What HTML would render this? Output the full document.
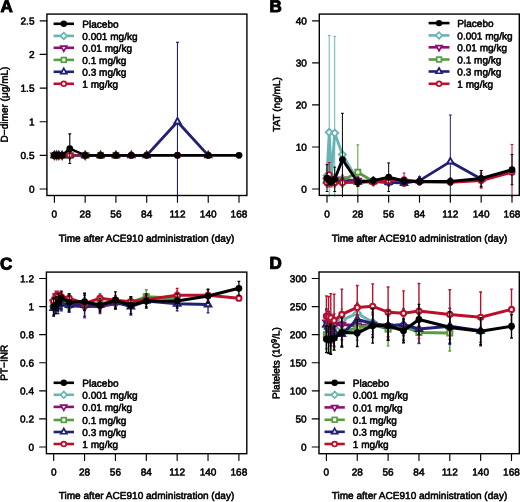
<!DOCTYPE html>
<html lang="en">
<head>
<meta charset="utf-8">
<title>Figure</title>
<style>html,body{margin:0;padding:0;background:#fff}svg{display:block}.t{stroke:#000;stroke-width:.55px;stroke-linejoin:round;text-rendering:geometricPrecision}</style>
</head>
<body>
<svg width="520" height="502" viewBox="0 0 520 502" font-family='"Liberation Sans", sans-serif' font-size="10.05" fill="#000" stroke-linecap="butt">
<rect width="520" height="502" fill="#fff"/>
<g id="panelA">
<clipPath id="clip0"><rect x="46.9" y="14.1" width="200.00" height="183.20"/></clipPath>
<g clip-path="url(#clip0)">
<path d="M54.40 155.36L56.60 155.36L58.80 155.36L62.09 155.36L69.78 155.36L85.17 155.36" fill="none" stroke="#68b4b2" stroke-width="2.0" stroke-linejoin="round"/>
<path d="M50.90 155.36L54.40 151.86L57.90 155.36L54.40 158.86Z" fill="#fff" stroke="#68b4b2" stroke-width="1.9"/>
<path d="M53.10 155.36L56.60 151.86L60.10 155.36L56.60 158.86Z" fill="#fff" stroke="#68b4b2" stroke-width="1.9"/>
<path d="M55.30 155.36L58.80 151.86L62.30 155.36L58.80 158.86Z" fill="#fff" stroke="#68b4b2" stroke-width="1.9"/>
<path d="M58.59 155.36L62.09 151.86L65.59 155.36L62.09 158.86Z" fill="#fff" stroke="#68b4b2" stroke-width="1.9"/>
<path d="M66.28 155.36L69.78 151.86L73.28 155.36L69.78 158.86Z" fill="#fff" stroke="#68b4b2" stroke-width="1.9"/>
<path d="M81.67 155.36L85.17 151.86L88.67 155.36L85.17 158.86Z" fill="#fff" stroke="#68b4b2" stroke-width="1.9"/>
<path d="M54.40 155.36L56.60 155.36L58.80 155.36L62.09 155.36L69.78 155.36L85.17 155.36" fill="none" stroke="#8c1072" stroke-width="2.0" stroke-linejoin="round"/>
<path d="M54.40 159.06L57.60 153.51L51.20 153.51Z" fill="#fff" stroke="#8c1072" stroke-width="1.9"/>
<path d="M56.60 159.06L59.80 153.51L53.39 153.51Z" fill="#fff" stroke="#8c1072" stroke-width="1.9"/>
<path d="M58.80 159.06L62.00 153.51L55.59 153.51Z" fill="#fff" stroke="#8c1072" stroke-width="1.9"/>
<path d="M62.09 159.06L65.30 153.51L58.89 153.51Z" fill="#fff" stroke="#8c1072" stroke-width="1.9"/>
<path d="M69.78 159.06L72.99 153.51L66.58 153.51Z" fill="#fff" stroke="#8c1072" stroke-width="1.9"/>
<path d="M85.17 159.06L88.37 153.51L81.96 153.51Z" fill="#fff" stroke="#8c1072" stroke-width="1.9"/>
<path d="M54.40 155.36L56.60 155.36L58.80 155.36L62.09 155.36L69.78 155.36L85.17 155.36L100.55 155.36L115.93 155.36" fill="none" stroke="#569c40" stroke-width="2.0" stroke-linejoin="round"/>
<rect x="51.90" y="152.86" width="5.00" height="5.00" fill="#fff" stroke="#569c40" stroke-width="1.9"/>
<rect x="54.10" y="152.86" width="5.00" height="5.00" fill="#fff" stroke="#569c40" stroke-width="1.9"/>
<rect x="56.30" y="152.86" width="5.00" height="5.00" fill="#fff" stroke="#569c40" stroke-width="1.9"/>
<rect x="59.59" y="152.86" width="5.00" height="5.00" fill="#fff" stroke="#569c40" stroke-width="1.9"/>
<rect x="67.28" y="152.86" width="5.00" height="5.00" fill="#fff" stroke="#569c40" stroke-width="1.9"/>
<rect x="82.67" y="152.86" width="5.00" height="5.00" fill="#fff" stroke="#569c40" stroke-width="1.9"/>
<rect x="98.05" y="152.86" width="5.00" height="5.00" fill="#fff" stroke="#569c40" stroke-width="1.9"/>
<rect x="113.43" y="152.86" width="5.00" height="5.00" fill="#fff" stroke="#569c40" stroke-width="1.9"/>
<path d="M177.47 201.11V42.33M176.07 201.11h2.8M176.07 42.33h2.8" fill="none" stroke="#222074" stroke-width="1.1"/>
<path d="M54.40 155.36L56.60 155.36L58.80 155.36L62.09 155.36L69.78 155.36L85.17 155.36L100.55 155.36L115.93 155.36L131.32 155.36L146.70 155.36L177.47 121.72L208.23 155.36" fill="none" stroke="#222074" stroke-width="2.9" stroke-linejoin="round"/>
<path d="M54.40 151.66L57.60 157.21L51.20 157.21Z" fill="#fff" stroke="#222074" stroke-width="1.9"/>
<path d="M56.60 151.66L59.80 157.21L53.39 157.21Z" fill="#fff" stroke="#222074" stroke-width="1.9"/>
<path d="M58.80 151.66L62.00 157.21L55.59 157.21Z" fill="#fff" stroke="#222074" stroke-width="1.9"/>
<path d="M62.09 151.66L65.30 157.21L58.89 157.21Z" fill="#fff" stroke="#222074" stroke-width="1.9"/>
<path d="M69.78 151.66L72.99 157.21L66.58 157.21Z" fill="#fff" stroke="#222074" stroke-width="1.9"/>
<path d="M85.17 151.66L88.37 157.21L81.96 157.21Z" fill="#fff" stroke="#222074" stroke-width="1.9"/>
<path d="M100.55 151.66L103.75 157.21L97.35 157.21Z" fill="#fff" stroke="#222074" stroke-width="1.9"/>
<path d="M115.93 151.66L119.14 157.21L112.73 157.21Z" fill="#fff" stroke="#222074" stroke-width="1.9"/>
<path d="M131.32 151.66L134.52 157.21L128.11 157.21Z" fill="#fff" stroke="#222074" stroke-width="1.9"/>
<path d="M146.70 151.66L149.90 157.21L143.50 157.21Z" fill="#fff" stroke="#222074" stroke-width="1.9"/>
<path d="M177.47 118.02L180.67 123.57L174.26 123.57Z" fill="#fff" stroke="#222074" stroke-width="1.9"/>
<path d="M208.23 151.66L211.44 157.21L205.03 157.21Z" fill="#fff" stroke="#222074" stroke-width="1.9"/>
<path d="M54.40 155.36L56.60 155.36L58.80 155.36L62.09 155.36L69.78 155.36L85.17 155.36L100.55 155.36L115.93 155.36L131.32 155.36L146.70 155.36L177.47 155.36L208.23 155.36" fill="none" stroke="#ba102c" stroke-width="2.0" stroke-linejoin="round"/>
<circle cx="54.40" cy="155.36" r="2.55" fill="#fff" stroke="#ba102c" stroke-width="1.9"/>
<circle cx="56.60" cy="155.36" r="2.55" fill="#fff" stroke="#ba102c" stroke-width="1.9"/>
<circle cx="58.80" cy="155.36" r="2.55" fill="#fff" stroke="#ba102c" stroke-width="1.9"/>
<circle cx="62.09" cy="155.36" r="2.55" fill="#fff" stroke="#ba102c" stroke-width="1.9"/>
<circle cx="69.78" cy="155.36" r="2.55" fill="#fff" stroke="#ba102c" stroke-width="1.9"/>
<circle cx="85.17" cy="155.36" r="2.55" fill="#fff" stroke="#ba102c" stroke-width="1.9"/>
<circle cx="100.55" cy="155.36" r="2.55" fill="#fff" stroke="#ba102c" stroke-width="1.9"/>
<circle cx="115.93" cy="155.36" r="2.55" fill="#fff" stroke="#ba102c" stroke-width="1.9"/>
<circle cx="131.32" cy="155.36" r="2.55" fill="#fff" stroke="#ba102c" stroke-width="1.9"/>
<circle cx="146.70" cy="155.36" r="2.55" fill="#fff" stroke="#ba102c" stroke-width="1.9"/>
<circle cx="177.47" cy="155.36" r="2.55" fill="#fff" stroke="#ba102c" stroke-width="1.9"/>
<circle cx="208.23" cy="155.36" r="2.55" fill="#fff" stroke="#ba102c" stroke-width="1.9"/>
<path d="M69.78 163.43V133.83M68.38 163.43h2.8M68.38 133.83h2.8" fill="none" stroke="#000000" stroke-width="1.1"/>
<path d="M54.40 155.36L56.60 155.36L58.80 155.36L62.09 155.36L69.78 148.63L85.17 155.36L100.55 155.36L115.93 155.36L131.32 155.36L146.70 155.36L177.47 155.36L208.23 155.36L239.00 155.36" fill="none" stroke="#000000" stroke-width="2.6" stroke-linejoin="round"/>
<circle cx="54.40" cy="155.36" r="3.40" fill="#000000"/>
<circle cx="56.60" cy="155.36" r="3.40" fill="#000000"/>
<circle cx="58.80" cy="155.36" r="3.40" fill="#000000"/>
<circle cx="62.09" cy="155.36" r="3.40" fill="#000000"/>
<circle cx="69.78" cy="148.63" r="3.40" fill="#000000"/>
<circle cx="85.17" cy="155.36" r="3.40" fill="#000000"/>
<circle cx="100.55" cy="155.36" r="3.40" fill="#000000"/>
<circle cx="115.93" cy="155.36" r="3.40" fill="#000000"/>
<circle cx="131.32" cy="155.36" r="3.40" fill="#000000"/>
<circle cx="146.70" cy="155.36" r="3.40" fill="#000000"/>
<circle cx="177.47" cy="155.36" r="3.40" fill="#000000"/>
<circle cx="208.23" cy="155.36" r="3.40" fill="#000000"/>
<circle cx="239.00" cy="155.36" r="3.40" fill="#000000"/>
</g>
<rect x="46.9" y="14.1" width="200.00" height="181.40" fill="none" stroke="#000" stroke-width="1.4"/>
<path d="M54.40 195.5v6.8M85.17 195.5v6.8M115.93 195.5v6.8M146.70 195.5v6.8M177.47 195.5v6.8M208.23 195.5v6.8M239.00 195.5v6.8M46.9 189.00h-6.8M46.9 155.36h-6.8M46.9 121.72h-6.8M46.9 88.08h-6.8M46.9 54.44h-6.8M46.9 20.80h-6.8" fill="none" stroke="#000" stroke-width="1.15" stroke-linecap="round"/>
<text x="54.40" y="217.50" text-anchor="middle" transform="rotate(0.03 54.40 217.50)" class="t">0</text>
<text x="85.17" y="217.50" text-anchor="middle" transform="rotate(0.03 85.17 217.50)" class="t">28</text>
<text x="115.93" y="217.50" text-anchor="middle" transform="rotate(0.03 115.93 217.50)" class="t">56</text>
<text x="146.70" y="217.50" text-anchor="middle" transform="rotate(0.03 146.70 217.50)" class="t">84</text>
<text x="177.47" y="217.50" text-anchor="middle" transform="rotate(0.03 177.47 217.50)" class="t">112</text>
<text x="208.23" y="217.50" text-anchor="middle" transform="rotate(0.03 208.23 217.50)" class="t">140</text>
<text x="239.00" y="217.50" text-anchor="middle" transform="rotate(0.03 239.00 217.50)" class="t">168</text>
<text x="34.50" y="192.70" text-anchor="end" transform="rotate(0.03 34.50 192.70)" class="t">0</text>
<text x="34.50" y="159.06" text-anchor="end" transform="rotate(0.03 34.50 159.06)" class="t">0.5</text>
<text x="34.50" y="125.42" text-anchor="end" transform="rotate(0.03 34.50 125.42)" class="t">1</text>
<text x="34.50" y="91.78" text-anchor="end" transform="rotate(0.03 34.50 91.78)" class="t">1.5</text>
<text x="34.50" y="58.14" text-anchor="end" transform="rotate(0.03 34.50 58.14)" class="t">2</text>
<text x="34.50" y="24.50" text-anchor="end" transform="rotate(0.03 34.50 24.50)" class="t">2.5</text>
<text x="146.50" y="241.80" text-anchor="middle" transform="rotate(0.03 146.50 241.80)" class="t">Time after ACE910 administration (day)</text>
<text transform="translate(7.8 104.5) rotate(-89.97)" text-anchor="middle" class="t">D−dimer (μg/mL)</text>
<path d="M53.6 23.8H74.0" stroke="#000000" stroke-width="2.6" fill="none"/>
<circle cx="63.80" cy="23.80" r="3.20" fill="#000000"/>
<text x="82.30" y="27.80" transform="rotate(0.03 82.30 27.80)" class="t">Placebo</text>
<path d="M53.6 35.9H74.0" stroke="#68b4b2" stroke-width="2.6" fill="none"/>
<path d="M60.51 35.90L63.80 32.61L67.09 35.90L63.80 39.19Z" fill="#fff" stroke="#68b4b2" stroke-width="1.7"/>
<text x="82.30" y="39.90" transform="rotate(0.03 82.30 39.90)" class="t">0.001 mg/kg</text>
<path d="M53.6 47.8H74.0" stroke="#8c1072" stroke-width="2.6" fill="none"/>
<path d="M63.80 51.28L66.81 46.06L60.79 46.06Z" fill="#fff" stroke="#8c1072" stroke-width="1.7"/>
<text x="82.30" y="51.80" transform="rotate(0.03 82.30 51.80)" class="t">0.01 mg/kg</text>
<path d="M53.6 59.9H74.0" stroke="#569c40" stroke-width="2.6" fill="none"/>
<rect x="61.45" y="57.55" width="4.70" height="4.70" fill="#fff" stroke="#569c40" stroke-width="1.7"/>
<text x="82.30" y="63.90" transform="rotate(0.03 82.30 63.90)" class="t">0.1 mg/kg</text>
<path d="M53.6 71.8H74.0" stroke="#222074" stroke-width="2.6" fill="none"/>
<path d="M63.80 68.32L66.81 73.54L60.79 73.54Z" fill="#fff" stroke="#222074" stroke-width="1.7"/>
<text x="82.30" y="75.80" transform="rotate(0.03 82.30 75.80)" class="t">0.3 mg/kg</text>
<path d="M53.6 83.8H74.0" stroke="#ba102c" stroke-width="2.6" fill="none"/>
<circle cx="63.80" cy="83.80" r="2.40" fill="#fff" stroke="#ba102c" stroke-width="1.7"/>
<text x="82.30" y="87.80" transform="rotate(0.03 82.30 87.80)" class="t">1 mg/kg</text>
<text x="0.6" y="12.1" transform="rotate(0.03 0.6 12.1)" font-size="17" font-weight="bold" stroke="#000" stroke-width="1" stroke-linejoin="round">A</text>
</g>
<g id="panelB">
<clipPath id="clip1"><rect x="319.3" y="14.1" width="200.00" height="183.10"/></clipPath>
<g clip-path="url(#clip1)">
<path d="M327.00 181.85V169.24M325.60 181.85h2.8M325.60 169.24h2.8M329.20 231.05V35.52M327.80 231.05h2.8M327.80 35.52h2.8M331.40 182.69V170.08M330.00 182.69h2.8M330.00 170.08h2.8M334.71 231.05V36.36M333.31 231.05h2.8M333.31 36.36h2.8M357.83 184.79V176.38M356.43 184.79h2.8M356.43 176.38h2.8" fill="none" stroke="#68b4b2" stroke-width="1.0"/>
<path d="M327.00 175.54L329.20 132.23L331.40 176.38L334.71 133.07L342.42 154.52L357.83 180.59" fill="none" stroke="#68b4b2" stroke-width="2.8" stroke-linejoin="round"/>
<path d="M323.50 175.54L327.00 172.04L330.50 175.54L327.00 179.04Z" fill="#fff" stroke="#68b4b2" stroke-width="1.9"/>
<path d="M325.70 132.23L329.20 128.73L332.70 132.23L329.20 135.73Z" fill="#fff" stroke="#68b4b2" stroke-width="1.9"/>
<path d="M327.90 176.38L331.40 172.88L334.90 176.38L331.40 179.88Z" fill="#fff" stroke="#68b4b2" stroke-width="1.9"/>
<path d="M331.21 133.07L334.71 129.57L338.21 133.07L334.71 136.57Z" fill="#fff" stroke="#68b4b2" stroke-width="1.9"/>
<path d="M338.92 154.52L342.42 151.02L345.92 154.52L342.42 158.02Z" fill="#fff" stroke="#68b4b2" stroke-width="1.9"/>
<path d="M354.33 180.59L357.83 177.09L361.33 180.59L357.83 184.09Z" fill="#fff" stroke="#68b4b2" stroke-width="1.9"/>
<path d="M327.00 184.79V176.38M325.60 184.79h2.8M325.60 176.38h2.8M329.20 184.79V176.38M327.80 184.79h2.8M327.80 176.38h2.8M331.40 184.79V176.38M330.00 184.79h2.8M330.00 176.38h2.8M334.71 184.79V176.38M333.31 184.79h2.8M333.31 176.38h2.8M342.42 183.53V175.12M341.02 183.53h2.8M341.02 175.12h2.8M357.83 184.79V176.38M356.43 184.79h2.8M356.43 176.38h2.8M373.25 184.79V178.07M371.85 184.79h2.8M371.85 178.07h2.8M388.67 185.64V178.91M387.27 185.64h2.8M387.27 178.91h2.8" fill="none" stroke="#8c1072" stroke-width="1.0"/>
<path d="M327.00 180.59L329.20 180.59L331.40 180.59L334.71 180.59L342.42 179.33L357.83 180.59L373.25 181.43L388.67 182.27" fill="none" stroke="#8c1072" stroke-width="2.8" stroke-linejoin="round"/>
<path d="M327.00 184.29L330.20 178.74L323.80 178.74Z" fill="#fff" stroke="#8c1072" stroke-width="1.9"/>
<path d="M329.20 184.29L332.41 178.74L326.00 178.74Z" fill="#fff" stroke="#8c1072" stroke-width="1.9"/>
<path d="M331.40 184.29L334.61 178.74L328.20 178.74Z" fill="#fff" stroke="#8c1072" stroke-width="1.9"/>
<path d="M334.71 184.29L337.91 178.74L331.50 178.74Z" fill="#fff" stroke="#8c1072" stroke-width="1.9"/>
<path d="M342.42 183.03L345.62 177.48L339.21 177.48Z" fill="#fff" stroke="#8c1072" stroke-width="1.9"/>
<path d="M357.83 184.29L361.04 178.74L354.63 178.74Z" fill="#fff" stroke="#8c1072" stroke-width="1.9"/>
<path d="M373.25 185.13L376.45 179.58L370.05 179.58Z" fill="#fff" stroke="#8c1072" stroke-width="1.9"/>
<path d="M388.67 185.97L391.87 180.42L385.46 180.42Z" fill="#fff" stroke="#8c1072" stroke-width="1.9"/>
<path d="M327.00 184.79V176.38M325.60 184.79h2.8M325.60 176.38h2.8M329.20 184.79V176.38M327.80 184.79h2.8M327.80 176.38h2.8M331.40 184.79V176.38M330.00 184.79h2.8M330.00 176.38h2.8M334.71 184.79V176.38M333.31 184.79h2.8M333.31 176.38h2.8M342.42 184.79V176.38M341.02 184.79h2.8M341.02 176.38h2.8M357.83 199.51V144.85M356.43 199.51h2.8M356.43 144.85h2.8M373.25 184.79V178.07M371.85 184.79h2.8M371.85 178.07h2.8M388.67 185.64V178.91M387.27 185.64h2.8M387.27 178.91h2.8M404.08 185.64V179.75M402.68 185.64h2.8M402.68 179.75h2.8" fill="none" stroke="#569c40" stroke-width="1.0"/>
<path d="M327.00 180.59L329.20 180.59L331.40 180.59L334.71 180.59L342.42 180.59L357.83 172.18L373.25 181.43L388.67 182.27L404.08 182.69" fill="none" stroke="#569c40" stroke-width="2.8" stroke-linejoin="round"/>
<rect x="324.50" y="178.09" width="5.00" height="5.00" fill="#fff" stroke="#569c40" stroke-width="1.9"/>
<rect x="326.70" y="178.09" width="5.00" height="5.00" fill="#fff" stroke="#569c40" stroke-width="1.9"/>
<rect x="328.90" y="178.09" width="5.00" height="5.00" fill="#fff" stroke="#569c40" stroke-width="1.9"/>
<rect x="332.21" y="178.09" width="5.00" height="5.00" fill="#fff" stroke="#569c40" stroke-width="1.9"/>
<rect x="339.92" y="178.09" width="5.00" height="5.00" fill="#fff" stroke="#569c40" stroke-width="1.9"/>
<rect x="355.33" y="169.68" width="5.00" height="5.00" fill="#fff" stroke="#569c40" stroke-width="1.9"/>
<rect x="370.75" y="178.93" width="5.00" height="5.00" fill="#fff" stroke="#569c40" stroke-width="1.9"/>
<rect x="386.17" y="179.77" width="5.00" height="5.00" fill="#fff" stroke="#569c40" stroke-width="1.9"/>
<rect x="401.58" y="180.19" width="5.00" height="5.00" fill="#fff" stroke="#569c40" stroke-width="1.9"/>
<path d="M327.00 184.79V176.38M325.60 184.79h2.8M325.60 176.38h2.8M329.20 184.79V176.38M327.80 184.79h2.8M327.80 176.38h2.8M331.40 184.79V176.38M330.00 184.79h2.8M330.00 176.38h2.8M334.71 184.79V176.38M333.31 184.79h2.8M333.31 176.38h2.8M342.42 184.79V178.07M341.02 184.79h2.8M341.02 178.07h2.8M357.83 184.79V178.91M356.43 184.79h2.8M356.43 178.91h2.8M373.25 184.79V178.07M371.85 184.79h2.8M371.85 178.07h2.8M388.67 185.64V178.91M387.27 185.64h2.8M387.27 178.91h2.8M404.08 186.06V180.17M402.68 186.06h2.8M402.68 180.17h2.8M419.50 184.79V176.38M418.10 184.79h2.8M418.10 176.38h2.8M450.33 208.34V114.99M448.93 208.34h2.8M448.93 114.99h2.8M481.17 187.32V170.50M479.77 187.32h2.8M479.77 170.50h2.8" fill="none" stroke="#222074" stroke-width="1.0"/>
<path d="M327.00 180.59L329.20 180.59L331.40 180.59L334.71 180.59L342.42 181.43L357.83 181.85L373.25 181.43L388.67 182.27L404.08 183.11L419.50 180.59L450.33 161.67L481.17 178.91" fill="none" stroke="#222074" stroke-width="2.8" stroke-linejoin="round"/>
<path d="M327.00 176.89L330.20 182.44L323.80 182.44Z" fill="#fff" stroke="#222074" stroke-width="1.9"/>
<path d="M329.20 176.89L332.41 182.44L326.00 182.44Z" fill="#fff" stroke="#222074" stroke-width="1.9"/>
<path d="M331.40 176.89L334.61 182.44L328.20 182.44Z" fill="#fff" stroke="#222074" stroke-width="1.9"/>
<path d="M334.71 176.89L337.91 182.44L331.50 182.44Z" fill="#fff" stroke="#222074" stroke-width="1.9"/>
<path d="M342.42 177.73L345.62 183.28L339.21 183.28Z" fill="#fff" stroke="#222074" stroke-width="1.9"/>
<path d="M357.83 178.15L361.04 183.70L354.63 183.70Z" fill="#fff" stroke="#222074" stroke-width="1.9"/>
<path d="M373.25 177.73L376.45 183.28L370.05 183.28Z" fill="#fff" stroke="#222074" stroke-width="1.9"/>
<path d="M388.67 178.57L391.87 184.12L385.46 184.12Z" fill="#fff" stroke="#222074" stroke-width="1.9"/>
<path d="M404.08 179.41L407.29 184.96L400.88 184.96Z" fill="#fff" stroke="#222074" stroke-width="1.9"/>
<path d="M419.50 176.89L422.70 182.44L416.30 182.44Z" fill="#fff" stroke="#222074" stroke-width="1.9"/>
<path d="M450.33 157.97L453.54 163.52L447.13 163.52Z" fill="#fff" stroke="#222074" stroke-width="1.9"/>
<path d="M481.17 175.21L484.37 180.76L477.96 180.76Z" fill="#fff" stroke="#222074" stroke-width="1.9"/>
<path d="M327.00 186.90V178.49M325.60 186.90h2.8M325.60 178.49h2.8M329.20 186.90V162.51M327.80 186.90h2.8M327.80 162.51h2.8M331.40 186.90V178.49M330.00 186.90h2.8M330.00 178.49h2.8M334.71 186.90V178.49M333.31 186.90h2.8M333.31 178.49h2.8M342.42 186.90V178.49M341.02 186.90h2.8M341.02 178.49h2.8M357.83 186.48V178.07M356.43 186.48h2.8M356.43 178.07h2.8M373.25 185.64V178.07M371.85 185.64h2.8M371.85 178.07h2.8M388.67 184.79V177.23M387.27 184.79h2.8M387.27 177.23h2.8M404.08 186.48V173.02M402.68 186.48h2.8M402.68 173.02h2.8M419.50 184.79V178.91M418.10 184.79h2.8M418.10 178.91h2.8M450.33 185.22V179.33M448.93 185.22h2.8M448.93 179.33h2.8M481.17 188.16V173.02M479.77 188.16h2.8M479.77 173.02h2.8M512.00 199.93V144.43M510.60 199.93h2.8M510.60 144.43h2.8" fill="none" stroke="#ba102c" stroke-width="1.0"/>
<path d="M327.00 182.69L329.20 174.70L331.40 182.69L334.71 182.69L342.42 182.69L357.83 182.27L373.25 181.85L388.67 181.01L404.08 179.75L419.50 181.85L450.33 182.27L481.17 180.59L512.00 172.18" fill="none" stroke="#ba102c" stroke-width="2.8" stroke-linejoin="round"/>
<circle cx="327.00" cy="182.69" r="2.55" fill="#fff" stroke="#ba102c" stroke-width="1.9"/>
<circle cx="329.20" cy="174.70" r="2.55" fill="#fff" stroke="#ba102c" stroke-width="1.9"/>
<circle cx="331.40" cy="182.69" r="2.55" fill="#fff" stroke="#ba102c" stroke-width="1.9"/>
<circle cx="334.71" cy="182.69" r="2.55" fill="#fff" stroke="#ba102c" stroke-width="1.9"/>
<circle cx="342.42" cy="182.69" r="2.55" fill="#fff" stroke="#ba102c" stroke-width="1.9"/>
<circle cx="357.83" cy="182.27" r="2.55" fill="#fff" stroke="#ba102c" stroke-width="1.9"/>
<circle cx="373.25" cy="181.85" r="2.55" fill="#fff" stroke="#ba102c" stroke-width="1.9"/>
<circle cx="388.67" cy="181.01" r="2.55" fill="#fff" stroke="#ba102c" stroke-width="1.9"/>
<circle cx="404.08" cy="179.75" r="2.55" fill="#fff" stroke="#ba102c" stroke-width="1.9"/>
<circle cx="419.50" cy="181.85" r="2.55" fill="#fff" stroke="#ba102c" stroke-width="1.9"/>
<circle cx="450.33" cy="182.27" r="2.55" fill="#fff" stroke="#ba102c" stroke-width="1.9"/>
<circle cx="481.17" cy="180.59" r="2.55" fill="#fff" stroke="#ba102c" stroke-width="1.9"/>
<circle cx="512.00" cy="172.18" r="2.55" fill="#fff" stroke="#ba102c" stroke-width="1.9"/>
<path d="M327.00 191.52V164.61M325.60 191.52h2.8M325.60 164.61h2.8M329.20 184.79V176.38M327.80 184.79h2.8M327.80 176.38h2.8M331.40 184.79V178.07M330.00 184.79h2.8M330.00 178.07h2.8M334.71 191.52V167.13M333.31 191.52h2.8M333.31 167.13h2.8M342.42 205.82V113.31M341.02 205.82h2.8M341.02 113.31h2.8M357.83 186.48V178.07M356.43 186.48h2.8M356.43 178.07h2.8M373.25 183.95V177.23M371.85 183.95h2.8M371.85 177.23h2.8M388.67 191.52V162.93M387.27 191.52h2.8M387.27 162.93h2.8M404.08 184.37V177.65M402.68 184.37h2.8M402.68 177.65h2.8M419.50 184.79V178.07M418.10 184.79h2.8M418.10 178.07h2.8M450.33 184.79V178.07M448.93 184.79h2.8M448.93 178.07h2.8M481.17 186.48V170.50M479.77 186.48h2.8M479.77 170.50h2.8M512.00 184.80V154.52M510.60 184.80h2.8M510.60 154.52h2.8" fill="none" stroke="#000000" stroke-width="1.0"/>
<path d="M327.00 178.07L329.20 180.59L331.40 181.43L334.71 179.33L342.42 159.56L357.83 182.27L373.25 180.59L388.67 177.23L404.08 181.01L419.50 181.43L450.33 181.43L481.17 178.49L512.00 169.66" fill="none" stroke="#000000" stroke-width="2.9" stroke-linejoin="round"/>
<circle cx="327.00" cy="178.07" r="3.40" fill="#000000"/>
<circle cx="329.20" cy="180.59" r="3.40" fill="#000000"/>
<circle cx="331.40" cy="181.43" r="3.40" fill="#000000"/>
<circle cx="334.71" cy="179.33" r="3.40" fill="#000000"/>
<circle cx="342.42" cy="159.56" r="3.40" fill="#000000"/>
<circle cx="357.83" cy="182.27" r="3.40" fill="#000000"/>
<circle cx="373.25" cy="180.59" r="3.40" fill="#000000"/>
<circle cx="388.67" cy="177.23" r="3.40" fill="#000000"/>
<circle cx="404.08" cy="181.01" r="3.40" fill="#000000"/>
<circle cx="419.50" cy="181.43" r="3.40" fill="#000000"/>
<circle cx="450.33" cy="181.43" r="3.40" fill="#000000"/>
<circle cx="481.17" cy="178.49" r="3.40" fill="#000000"/>
<circle cx="512.00" cy="169.66" r="3.40" fill="#000000"/>
</g>
<rect x="319.3" y="14.1" width="200.00" height="181.30" fill="none" stroke="#000" stroke-width="1.4"/>
<path d="M327.00 195.4v6.8M357.83 195.4v6.8M388.67 195.4v6.8M419.50 195.4v6.8M450.33 195.4v6.8M481.17 195.4v6.8M512.00 195.4v6.8M319.3 189.00h-6.8M319.3 146.95h-6.8M319.3 104.90h-6.8M319.3 62.85h-6.8M319.3 20.80h-6.8" fill="none" stroke="#000" stroke-width="1.15" stroke-linecap="round"/>
<text x="327.00" y="217.50" text-anchor="middle" transform="rotate(0.03 327.00 217.50)" class="t">0</text>
<text x="357.83" y="217.50" text-anchor="middle" transform="rotate(0.03 357.83 217.50)" class="t">28</text>
<text x="388.67" y="217.50" text-anchor="middle" transform="rotate(0.03 388.67 217.50)" class="t">56</text>
<text x="419.50" y="217.50" text-anchor="middle" transform="rotate(0.03 419.50 217.50)" class="t">84</text>
<text x="450.33" y="217.50" text-anchor="middle" transform="rotate(0.03 450.33 217.50)" class="t">112</text>
<text x="481.17" y="217.50" text-anchor="middle" transform="rotate(0.03 481.17 217.50)" class="t">140</text>
<text x="512.00" y="217.50" text-anchor="middle" transform="rotate(0.03 512.00 217.50)" class="t">168</text>
<text x="306.90" y="192.70" text-anchor="end" transform="rotate(0.03 306.90 192.70)" class="t">0</text>
<text x="306.90" y="150.65" text-anchor="end" transform="rotate(0.03 306.90 150.65)" class="t">10</text>
<text x="306.90" y="108.60" text-anchor="end" transform="rotate(0.03 306.90 108.60)" class="t">20</text>
<text x="306.90" y="66.55" text-anchor="end" transform="rotate(0.03 306.90 66.55)" class="t">30</text>
<text x="306.90" y="24.50" text-anchor="end" transform="rotate(0.03 306.90 24.50)" class="t">40</text>
<text x="419.50" y="241.80" text-anchor="middle" transform="rotate(0.03 419.50 241.80)" class="t">Time after ACE910 administration (day)</text>
<text transform="translate(280 104.5) rotate(-89.97)" text-anchor="middle" class="t">TAT (ng/mL)</text>
<path d="M428.6 23.1H449.5" stroke="#000000" stroke-width="2.6" fill="none"/>
<circle cx="439.05" cy="23.10" r="3.20" fill="#000000"/>
<text x="457.30" y="27.10" transform="rotate(0.03 457.30 27.10)" class="t">Placebo</text>
<path d="M428.6 35.4H449.5" stroke="#68b4b2" stroke-width="2.6" fill="none"/>
<path d="M435.76 35.40L439.05 32.11L442.34 35.40L439.05 38.69Z" fill="#fff" stroke="#68b4b2" stroke-width="1.7"/>
<text x="457.30" y="39.40" transform="rotate(0.03 457.30 39.40)" class="t">0.001 mg/kg</text>
<path d="M428.6 47.3H449.5" stroke="#8c1072" stroke-width="2.6" fill="none"/>
<path d="M439.05 50.78L442.06 45.56L436.04 45.56Z" fill="#fff" stroke="#8c1072" stroke-width="1.7"/>
<text x="457.30" y="51.30" transform="rotate(0.03 457.30 51.30)" class="t">0.01 mg/kg</text>
<path d="M428.6 59.5H449.5" stroke="#569c40" stroke-width="2.6" fill="none"/>
<rect x="436.70" y="57.15" width="4.70" height="4.70" fill="#fff" stroke="#569c40" stroke-width="1.7"/>
<text x="457.30" y="63.50" transform="rotate(0.03 457.30 63.50)" class="t">0.1 mg/kg</text>
<path d="M428.6 71.5H449.5" stroke="#222074" stroke-width="2.6" fill="none"/>
<path d="M439.05 68.02L442.06 73.24L436.04 73.24Z" fill="#fff" stroke="#222074" stroke-width="1.7"/>
<text x="457.30" y="75.50" transform="rotate(0.03 457.30 75.50)" class="t">0.3 mg/kg</text>
<path d="M428.6 83.8H449.5" stroke="#ba102c" stroke-width="2.6" fill="none"/>
<circle cx="439.05" cy="83.80" r="2.40" fill="#fff" stroke="#ba102c" stroke-width="1.7"/>
<text x="457.30" y="87.80" transform="rotate(0.03 457.30 87.80)" class="t">1 mg/kg</text>
<text x="269.6" y="12.1" transform="rotate(0.03 269.6 12.1)" font-size="17" font-weight="bold" stroke="#000" stroke-width="1" stroke-linejoin="round">B</text>
</g>
<g id="panelC">
<clipPath id="clip2"><rect x="46.4" y="272.1" width="200.40" height="183.40"/></clipPath>
<g clip-path="url(#clip2)">
<path d="M53.70 310.80V302.37M52.30 310.80h2.8M52.30 302.37h2.8M55.90 310.80V302.37M54.50 310.80h2.8M54.50 302.37h2.8M58.11 309.39V300.97M56.71 309.39h2.8M56.71 300.97h2.8M61.42 307.99V299.56M60.02 307.99h2.8M60.02 299.56h2.8M69.13 312.20V300.97M67.73 312.20h2.8M67.73 300.97h2.8M84.57 310.80V302.37M83.17 310.80h2.8M83.17 302.37h2.8" fill="none" stroke="#68b4b2" stroke-width="1.3"/>
<path d="M53.70 306.58L55.90 306.58L58.11 305.18L61.42 303.77L69.13 306.58L84.57 306.58" fill="none" stroke="#68b4b2" stroke-width="3.0" stroke-linejoin="round"/>
<path d="M50.20 306.58L53.70 303.08L57.20 306.58L53.70 310.08Z" fill="#fff" stroke="#68b4b2" stroke-width="2.1"/>
<path d="M52.40 306.58L55.90 303.08L59.40 306.58L55.90 310.08Z" fill="#fff" stroke="#68b4b2" stroke-width="2.1"/>
<path d="M54.61 305.18L58.11 301.68L61.61 305.18L58.11 308.68Z" fill="#fff" stroke="#68b4b2" stroke-width="2.1"/>
<path d="M57.92 303.77L61.42 300.27L64.92 303.77L61.42 307.27Z" fill="#fff" stroke="#68b4b2" stroke-width="2.1"/>
<path d="M65.63 306.58L69.13 303.08L72.63 306.58L69.13 310.08Z" fill="#fff" stroke="#68b4b2" stroke-width="2.1"/>
<path d="M81.07 306.58L84.57 303.08L88.07 306.58L84.57 310.08Z" fill="#fff" stroke="#68b4b2" stroke-width="2.1"/>
<path d="M53.70 310.80V293.95M52.30 310.80h2.8M52.30 293.95h2.8M55.90 306.58V292.54M54.50 306.58h2.8M54.50 292.54h2.8M58.11 307.99V293.95M56.71 307.99h2.8M56.71 293.95h2.8M61.42 309.39V295.35M60.02 309.39h2.8M60.02 295.35h2.8M69.13 312.20V298.16M67.73 312.20h2.8M67.73 298.16h2.8M84.57 317.82V295.35M83.17 317.82h2.8M83.17 295.35h2.8M100.00 313.60V299.56M98.60 313.60h2.8M98.60 299.56h2.8M115.43 309.39V298.16M114.03 309.39h2.8M114.03 298.16h2.8" fill="none" stroke="#8c1072" stroke-width="1.3"/>
<path d="M53.70 302.37L55.90 299.56L58.11 300.97L61.42 302.37L69.13 305.18L84.57 306.58L100.00 306.58L115.43 303.77" fill="none" stroke="#8c1072" stroke-width="3.0" stroke-linejoin="round"/>
<path d="M53.70 306.07L56.90 300.52L50.50 300.52Z" fill="#fff" stroke="#8c1072" stroke-width="2.1"/>
<path d="M55.90 303.26L59.11 297.71L52.70 297.71Z" fill="#fff" stroke="#8c1072" stroke-width="2.1"/>
<path d="M58.11 304.67L61.31 299.12L54.91 299.12Z" fill="#fff" stroke="#8c1072" stroke-width="2.1"/>
<path d="M61.42 306.07L64.62 300.52L58.21 300.52Z" fill="#fff" stroke="#8c1072" stroke-width="2.1"/>
<path d="M69.13 308.88L72.34 303.33L65.93 303.33Z" fill="#fff" stroke="#8c1072" stroke-width="2.1"/>
<path d="M84.57 310.28L87.77 304.73L81.36 304.73Z" fill="#fff" stroke="#8c1072" stroke-width="2.1"/>
<path d="M100.00 310.28L103.20 304.73L96.80 304.73Z" fill="#fff" stroke="#8c1072" stroke-width="2.1"/>
<path d="M115.43 307.47L118.64 301.92L112.23 301.92Z" fill="#fff" stroke="#8c1072" stroke-width="2.1"/>
<path d="M53.70 312.20V300.97M52.30 312.20h2.8M52.30 300.97h2.8M55.90 309.39V298.16M54.50 309.39h2.8M54.50 298.16h2.8M58.11 307.99V296.75M56.71 307.99h2.8M56.71 296.75h2.8M61.42 306.58V295.35M60.02 306.58h2.8M60.02 295.35h2.8M69.13 307.99V296.75M67.73 307.99h2.8M67.73 296.75h2.8M84.57 309.39V298.16M83.17 309.39h2.8M83.17 298.16h2.8M100.00 309.39V298.16M98.60 309.39h2.8M98.60 298.16h2.8M115.43 306.58V295.35M114.03 306.58h2.8M114.03 295.35h2.8M130.87 307.99V296.75M129.47 307.99h2.8M129.47 296.75h2.8M146.30 303.77V289.73M144.90 303.77h2.8M144.90 289.73h2.8M177.17 305.18V291.14M175.77 305.18h2.8M175.77 291.14h2.8" fill="none" stroke="#569c40" stroke-width="1.3"/>
<path d="M53.70 306.58L55.90 303.77L58.11 302.37L61.42 300.97L69.13 302.37L84.57 303.77L100.00 303.77L115.43 300.97L130.87 302.37L146.30 296.75L177.17 298.16" fill="none" stroke="#569c40" stroke-width="3.0" stroke-linejoin="round"/>
<rect x="51.20" y="304.08" width="5.00" height="5.00" fill="#fff" stroke="#569c40" stroke-width="2.1"/>
<rect x="53.40" y="301.27" width="5.00" height="5.00" fill="#fff" stroke="#569c40" stroke-width="2.1"/>
<rect x="55.61" y="299.87" width="5.00" height="5.00" fill="#fff" stroke="#569c40" stroke-width="2.1"/>
<rect x="58.92" y="298.47" width="5.00" height="5.00" fill="#fff" stroke="#569c40" stroke-width="2.1"/>
<rect x="66.63" y="299.87" width="5.00" height="5.00" fill="#fff" stroke="#569c40" stroke-width="2.1"/>
<rect x="82.07" y="301.27" width="5.00" height="5.00" fill="#fff" stroke="#569c40" stroke-width="2.1"/>
<rect x="97.50" y="301.27" width="5.00" height="5.00" fill="#fff" stroke="#569c40" stroke-width="2.1"/>
<rect x="112.93" y="298.47" width="5.00" height="5.00" fill="#fff" stroke="#569c40" stroke-width="2.1"/>
<rect x="128.37" y="299.87" width="5.00" height="5.00" fill="#fff" stroke="#569c40" stroke-width="2.1"/>
<rect x="143.80" y="294.25" width="5.00" height="5.00" fill="#fff" stroke="#569c40" stroke-width="2.1"/>
<rect x="174.67" y="295.66" width="5.00" height="5.00" fill="#fff" stroke="#569c40" stroke-width="2.1"/>
<path d="M53.70 316.41V299.56M52.30 316.41h2.8M52.30 299.56h2.8M55.90 313.60V299.56M54.50 313.60h2.8M54.50 299.56h2.8M58.11 313.60V299.56M56.71 313.60h2.8M56.71 299.56h2.8M61.42 310.80V296.75M60.02 310.80h2.8M60.02 296.75h2.8M69.13 312.20V298.16M67.73 312.20h2.8M67.73 298.16h2.8M84.57 316.41V293.95M83.17 316.41h2.8M83.17 293.95h2.8M100.00 310.80V299.56M98.60 310.80h2.8M98.60 299.56h2.8M115.43 307.99V296.75M114.03 307.99h2.8M114.03 296.75h2.8M130.87 315.01V298.16M129.47 315.01h2.8M129.47 298.16h2.8M146.30 306.58V295.35M144.90 306.58h2.8M144.90 295.35h2.8M177.17 310.80V296.75M175.77 310.80h2.8M175.77 296.75h2.8M208.03 312.90V296.05M206.63 312.90h2.8M206.63 296.05h2.8" fill="none" stroke="#222074" stroke-width="1.3"/>
<path d="M53.70 307.99L55.90 306.58L58.11 306.58L61.42 303.77L69.13 305.18L84.57 305.18L100.00 305.18L115.43 302.37L130.87 306.58L146.30 300.97L177.17 303.77L208.03 304.48" fill="none" stroke="#222074" stroke-width="3.0" stroke-linejoin="round"/>
<path d="M53.70 304.29L56.90 309.84L50.50 309.84Z" fill="#fff" stroke="#222074" stroke-width="2.1"/>
<path d="M55.90 302.88L59.11 308.43L52.70 308.43Z" fill="#fff" stroke="#222074" stroke-width="2.1"/>
<path d="M58.11 302.88L61.31 308.43L54.91 308.43Z" fill="#fff" stroke="#222074" stroke-width="2.1"/>
<path d="M61.42 300.07L64.62 305.62L58.21 305.62Z" fill="#fff" stroke="#222074" stroke-width="2.1"/>
<path d="M69.13 301.48L72.34 307.03L65.93 307.03Z" fill="#fff" stroke="#222074" stroke-width="2.1"/>
<path d="M84.57 301.48L87.77 307.03L81.36 307.03Z" fill="#fff" stroke="#222074" stroke-width="2.1"/>
<path d="M100.00 301.48L103.20 307.03L96.80 307.03Z" fill="#fff" stroke="#222074" stroke-width="2.1"/>
<path d="M115.43 298.67L118.64 304.22L112.23 304.22Z" fill="#fff" stroke="#222074" stroke-width="2.1"/>
<path d="M130.87 302.88L134.07 308.43L127.66 308.43Z" fill="#fff" stroke="#222074" stroke-width="2.1"/>
<path d="M146.30 297.27L149.50 302.82L143.10 302.82Z" fill="#fff" stroke="#222074" stroke-width="2.1"/>
<path d="M177.17 300.07L180.37 305.62L173.96 305.62Z" fill="#fff" stroke="#222074" stroke-width="2.1"/>
<path d="M208.03 300.78L211.24 306.33L204.83 306.33Z" fill="#fff" stroke="#222074" stroke-width="2.1"/>
<path d="M53.70 307.99V293.95M52.30 307.99h2.8M52.30 293.95h2.8M55.90 302.37V291.14M54.50 302.37h2.8M54.50 291.14h2.8M58.11 299.56V291.14M56.71 299.56h2.8M56.71 291.14h2.8M61.42 300.97V292.54M60.02 300.97h2.8M60.02 292.54h2.8M69.13 302.37V293.95M67.73 302.37h2.8M67.73 293.95h2.8M84.57 307.99V299.56M83.17 307.99h2.8M83.17 299.56h2.8M100.00 302.37V293.95M98.60 302.37h2.8M98.60 293.95h2.8M115.43 304.48V296.05M114.03 304.48h2.8M114.03 296.05h2.8M130.87 305.88V297.46M129.47 305.88h2.8M129.47 297.46h2.8M146.30 303.77V295.35M144.90 303.77h2.8M144.90 295.35h2.8M177.17 302.37V288.33M175.77 302.37h2.8M175.77 288.33h2.8M208.03 300.97V289.73M206.63 300.97h2.8M206.63 289.73h2.8" fill="none" stroke="#ba102c" stroke-width="1.3"/>
<path d="M53.70 300.97L55.90 296.75L58.11 295.35L61.42 296.75L69.13 298.16L84.57 303.77L100.00 298.16L115.43 300.26L130.87 301.67L146.30 299.56L177.17 295.35L208.03 295.35L238.90 298.16" fill="none" stroke="#ba102c" stroke-width="3.0" stroke-linejoin="round"/>
<circle cx="53.70" cy="300.97" r="2.55" fill="#fff" stroke="#ba102c" stroke-width="2.1"/>
<circle cx="55.90" cy="296.75" r="2.55" fill="#fff" stroke="#ba102c" stroke-width="2.1"/>
<circle cx="58.11" cy="295.35" r="2.55" fill="#fff" stroke="#ba102c" stroke-width="2.1"/>
<circle cx="61.42" cy="296.75" r="2.55" fill="#fff" stroke="#ba102c" stroke-width="2.1"/>
<circle cx="69.13" cy="298.16" r="2.55" fill="#fff" stroke="#ba102c" stroke-width="2.1"/>
<circle cx="84.57" cy="303.77" r="2.55" fill="#fff" stroke="#ba102c" stroke-width="2.1"/>
<circle cx="100.00" cy="298.16" r="2.55" fill="#fff" stroke="#ba102c" stroke-width="2.1"/>
<circle cx="115.43" cy="300.26" r="2.55" fill="#fff" stroke="#ba102c" stroke-width="2.1"/>
<circle cx="130.87" cy="301.67" r="2.55" fill="#fff" stroke="#ba102c" stroke-width="2.1"/>
<circle cx="146.30" cy="299.56" r="2.55" fill="#fff" stroke="#ba102c" stroke-width="2.1"/>
<circle cx="177.17" cy="295.35" r="2.55" fill="#fff" stroke="#ba102c" stroke-width="2.1"/>
<circle cx="208.03" cy="295.35" r="2.55" fill="#fff" stroke="#ba102c" stroke-width="2.1"/>
<circle cx="238.90" cy="298.16" r="2.55" fill="#fff" stroke="#ba102c" stroke-width="2.1"/>
<path d="M53.70 315.01V298.16M52.30 315.01h2.8M52.30 298.16h2.8M55.90 313.60V296.75M54.50 313.60h2.8M54.50 296.75h2.8M58.11 310.80V293.95M56.71 310.80h2.8M56.71 293.95h2.8M61.42 305.18V291.14M60.02 305.18h2.8M60.02 291.14h2.8M69.13 310.80V293.95M67.73 310.80h2.8M67.73 293.95h2.8M84.57 310.09V293.24M83.17 310.09h2.8M83.17 293.24h2.8M100.00 312.20V298.16M98.60 312.20h2.8M98.60 298.16h2.8M115.43 308.69V291.84M114.03 308.69h2.8M114.03 291.84h2.8M130.87 313.60V296.75M129.47 313.60h2.8M129.47 296.75h2.8M146.30 307.99V293.95M144.90 307.99h2.8M144.90 293.95h2.8M177.17 307.99V293.95M175.77 307.99h2.8M175.77 293.95h2.8M208.03 303.07V289.03M206.63 303.07h2.8M206.63 289.03h2.8M238.90 295.35V281.31M237.50 295.35h2.8M237.50 281.31h2.8" fill="none" stroke="#000000" stroke-width="1.3"/>
<path d="M53.70 306.58L55.90 305.18L58.11 302.37L61.42 298.16L69.13 302.37L84.57 301.67L100.00 305.18L115.43 300.26L130.87 305.18L146.30 300.97L177.17 300.97L208.03 296.05L238.90 288.33" fill="none" stroke="#000000" stroke-width="3.1" stroke-linejoin="round"/>
<circle cx="53.70" cy="306.58" r="3.40" fill="#000000"/>
<circle cx="55.90" cy="305.18" r="3.40" fill="#000000"/>
<circle cx="58.11" cy="302.37" r="3.40" fill="#000000"/>
<circle cx="61.42" cy="298.16" r="3.40" fill="#000000"/>
<circle cx="69.13" cy="302.37" r="3.40" fill="#000000"/>
<circle cx="84.57" cy="301.67" r="3.40" fill="#000000"/>
<circle cx="100.00" cy="305.18" r="3.40" fill="#000000"/>
<circle cx="115.43" cy="300.26" r="3.40" fill="#000000"/>
<circle cx="130.87" cy="305.18" r="3.40" fill="#000000"/>
<circle cx="146.30" cy="300.97" r="3.40" fill="#000000"/>
<circle cx="177.17" cy="300.97" r="3.40" fill="#000000"/>
<circle cx="208.03" cy="296.05" r="3.40" fill="#000000"/>
<circle cx="238.90" cy="288.33" r="3.40" fill="#000000"/>
</g>
<rect x="46.4" y="272.1" width="200.40" height="181.60" fill="none" stroke="#000" stroke-width="1.4"/>
<path d="M53.70 453.7v6.8M84.57 453.7v6.8M115.43 453.7v6.8M146.30 453.7v6.8M177.17 453.7v6.8M208.03 453.7v6.8M238.90 453.7v6.8M46.4 447.00h-6.8M46.4 418.92h-6.8M46.4 390.83h-6.8M46.4 362.75h-6.8M46.4 334.67h-6.8M46.4 306.58h-6.8M46.4 278.50h-6.8" fill="none" stroke="#000" stroke-width="1.15" stroke-linecap="round"/>
<text x="53.70" y="475.50" text-anchor="middle" transform="rotate(0.03 53.70 475.50)" class="t">0</text>
<text x="84.57" y="475.50" text-anchor="middle" transform="rotate(0.03 84.57 475.50)" class="t">28</text>
<text x="115.43" y="475.50" text-anchor="middle" transform="rotate(0.03 115.43 475.50)" class="t">56</text>
<text x="146.30" y="475.50" text-anchor="middle" transform="rotate(0.03 146.30 475.50)" class="t">84</text>
<text x="177.17" y="475.50" text-anchor="middle" transform="rotate(0.03 177.17 475.50)" class="t">112</text>
<text x="208.03" y="475.50" text-anchor="middle" transform="rotate(0.03 208.03 475.50)" class="t">140</text>
<text x="238.90" y="475.50" text-anchor="middle" transform="rotate(0.03 238.90 475.50)" class="t">168</text>
<text x="34.00" y="450.70" text-anchor="end" transform="rotate(0.03 34.00 450.70)" class="t">0</text>
<text x="34.00" y="422.62" text-anchor="end" transform="rotate(0.03 34.00 422.62)" class="t">0.2</text>
<text x="34.00" y="394.53" text-anchor="end" transform="rotate(0.03 34.00 394.53)" class="t">0.4</text>
<text x="34.00" y="366.45" text-anchor="end" transform="rotate(0.03 34.00 366.45)" class="t">0.6</text>
<text x="34.00" y="338.37" text-anchor="end" transform="rotate(0.03 34.00 338.37)" class="t">0.8</text>
<text x="34.00" y="310.28" text-anchor="end" transform="rotate(0.03 34.00 310.28)" class="t">1</text>
<text x="34.00" y="282.20" text-anchor="end" transform="rotate(0.03 34.00 282.20)" class="t">1.2</text>
<text x="146.50" y="499.00" text-anchor="middle" transform="rotate(0.03 146.50 499.00)" class="t">Time after ACE910 administration (day)</text>
<text transform="translate(7.4 362.8) rotate(-89.97)" text-anchor="middle" class="t">PT−INR</text>
<path d="M53.6 382.8H74.0" stroke="#000000" stroke-width="2.6" fill="none"/>
<circle cx="63.80" cy="382.80" r="3.20" fill="#000000"/>
<text x="82.30" y="386.80" transform="rotate(0.03 82.30 386.80)" class="t">Placebo</text>
<path d="M53.6 394.8H74.0" stroke="#68b4b2" stroke-width="2.6" fill="none"/>
<path d="M60.51 394.80L63.80 391.51L67.09 394.80L63.80 398.09Z" fill="#fff" stroke="#68b4b2" stroke-width="1.7"/>
<text x="82.30" y="398.80" transform="rotate(0.03 82.30 398.80)" class="t">0.001 mg/kg</text>
<path d="M53.6 406.9H74.0" stroke="#8c1072" stroke-width="2.6" fill="none"/>
<path d="M63.80 410.38L66.81 405.16L60.79 405.16Z" fill="#fff" stroke="#8c1072" stroke-width="1.7"/>
<text x="82.30" y="410.90" transform="rotate(0.03 82.30 410.90)" class="t">0.01 mg/kg</text>
<path d="M53.6 420.0H74.0" stroke="#569c40" stroke-width="2.6" fill="none"/>
<rect x="61.45" y="417.65" width="4.70" height="4.70" fill="#fff" stroke="#569c40" stroke-width="1.7"/>
<text x="82.30" y="424.00" transform="rotate(0.03 82.30 424.00)" class="t">0.1 mg/kg</text>
<path d="M53.6 432.0H74.0" stroke="#222074" stroke-width="2.6" fill="none"/>
<path d="M63.80 428.52L66.81 433.74L60.79 433.74Z" fill="#fff" stroke="#222074" stroke-width="1.7"/>
<text x="82.30" y="436.00" transform="rotate(0.03 82.30 436.00)" class="t">0.3 mg/kg</text>
<path d="M53.6 444.0H74.0" stroke="#ba102c" stroke-width="2.6" fill="none"/>
<circle cx="63.80" cy="444.00" r="2.40" fill="#fff" stroke="#ba102c" stroke-width="1.7"/>
<text x="82.30" y="448.00" transform="rotate(0.03 82.30 448.00)" class="t">1 mg/kg</text>
<text x="-0.1" y="269.6" transform="rotate(0.03 -0.1 269.6)" font-size="17" font-weight="bold" stroke="#000" stroke-width="1" stroke-linejoin="round">C</text>
</g>
<g id="panelD">
<clipPath id="clip3"><rect x="319.0" y="272.0" width="200.30" height="183.50"/></clipPath>
<g clip-path="url(#clip3)">
<path d="M326.40 338.04V315.57M325.00 338.04h2.8M325.00 315.57h2.8M328.60 340.28V317.82M327.20 340.28h2.8M327.20 317.82h2.8M330.81 341.41V318.94M329.41 341.41h2.8M329.41 318.94h2.8M334.11 339.16V316.69M332.71 339.16h2.8M332.71 316.69h2.8M341.82 331.30V308.83M340.43 331.30h2.8M340.43 308.83h2.8M357.25 324.56V302.09M355.85 324.56h2.8M355.85 302.09h2.8M372.67 331.86V312.76M371.27 331.86h2.8M371.27 312.76h2.8" fill="none" stroke="#68b4b2" stroke-width="1.4"/>
<path d="M326.40 326.80L328.60 329.05L330.81 330.17L334.11 327.93L341.82 320.06L357.25 313.32L372.67 322.31" fill="none" stroke="#68b4b2" stroke-width="3.0" stroke-linejoin="round"/>
<path d="M322.90 326.80L326.40 323.30L329.90 326.80L326.40 330.30Z" fill="#fff" stroke="#68b4b2" stroke-width="2.1"/>
<path d="M325.10 329.05L328.60 325.55L332.10 329.05L328.60 332.55Z" fill="#fff" stroke="#68b4b2" stroke-width="2.1"/>
<path d="M327.31 330.17L330.81 326.67L334.31 330.17L330.81 333.67Z" fill="#fff" stroke="#68b4b2" stroke-width="2.1"/>
<path d="M330.61 327.93L334.11 324.43L337.61 327.93L334.11 331.43Z" fill="#fff" stroke="#68b4b2" stroke-width="2.1"/>
<path d="M338.32 320.06L341.82 316.56L345.32 320.06L341.82 323.56Z" fill="#fff" stroke="#68b4b2" stroke-width="2.1"/>
<path d="M353.75 313.32L357.25 309.82L360.75 313.32L357.25 316.82Z" fill="#fff" stroke="#68b4b2" stroke-width="2.1"/>
<path d="M369.17 322.31L372.67 318.81L376.17 322.31L372.67 325.81Z" fill="#fff" stroke="#68b4b2" stroke-width="2.1"/>
<path d="M326.40 334.67V309.95M325.00 334.67h2.8M325.00 309.95h2.8M328.60 336.35V311.64M327.20 336.35h2.8M327.20 311.64h2.8M330.81 336.91V314.45M329.41 336.91h2.8M329.41 314.45h2.8M334.11 336.35V313.88M332.71 336.35h2.8M332.71 313.88h2.8M341.82 335.79V313.32M340.43 335.79h2.8M340.43 313.32h2.8M357.25 336.91V314.45M355.85 336.91h2.8M355.85 314.45h2.8M372.67 334.67V314.45M371.27 334.67h2.8M371.27 314.45h2.8M388.10 336.35V316.13M386.70 336.35h2.8M386.70 316.13h2.8" fill="none" stroke="#8c1072" stroke-width="1.4"/>
<path d="M326.40 322.31L328.60 324.00L330.81 325.68L334.11 325.12L341.82 324.56L357.25 325.68L372.67 324.56L388.10 326.24" fill="none" stroke="#8c1072" stroke-width="3.0" stroke-linejoin="round"/>
<path d="M326.40 326.01L329.60 320.46L323.20 320.46Z" fill="#fff" stroke="#8c1072" stroke-width="2.1"/>
<path d="M328.60 327.69L331.81 322.14L325.40 322.14Z" fill="#fff" stroke="#8c1072" stroke-width="2.1"/>
<path d="M330.81 329.38L334.01 323.83L327.60 323.83Z" fill="#fff" stroke="#8c1072" stroke-width="2.1"/>
<path d="M334.11 328.82L337.32 323.27L330.91 323.27Z" fill="#fff" stroke="#8c1072" stroke-width="2.1"/>
<path d="M341.82 328.26L345.03 322.71L338.62 322.71Z" fill="#fff" stroke="#8c1072" stroke-width="2.1"/>
<path d="M357.25 329.38L360.45 323.83L354.05 323.83Z" fill="#fff" stroke="#8c1072" stroke-width="2.1"/>
<path d="M372.67 328.26L375.88 322.71L369.47 322.71Z" fill="#fff" stroke="#8c1072" stroke-width="2.1"/>
<path d="M388.10 329.94L391.30 324.39L384.90 324.39Z" fill="#fff" stroke="#8c1072" stroke-width="2.1"/>
<path d="M326.40 348.71V320.62M325.00 348.71h2.8M325.00 320.62h2.8M328.60 352.08V324.00M327.20 352.08h2.8M327.20 324.00h2.8M330.81 354.32V326.24M329.41 354.32h2.8M329.41 326.24h2.8M334.11 350.39V324.56M332.71 350.39h2.8M332.71 324.56h2.8M341.82 345.90V317.82M340.43 345.90h2.8M340.43 317.82h2.8M357.25 340.28V315.57M355.85 340.28h2.8M355.85 315.57h2.8M372.67 336.91V312.20M371.27 336.91h2.8M371.27 312.20h2.8M388.10 345.90V312.20M386.70 345.90h2.8M386.70 312.20h2.8M403.52 343.09V309.39M402.12 343.09h2.8M402.12 309.39h2.8M418.95 343.65V321.19M417.55 343.65h2.8M417.55 321.19h2.8M449.80 350.95V315.01M448.40 350.95h2.8M448.40 315.01h2.8" fill="none" stroke="#569c40" stroke-width="1.4"/>
<path d="M326.40 334.67L328.60 338.04L330.81 340.28L334.11 337.48L341.82 331.86L357.25 327.93L372.67 324.56L388.10 329.05L403.52 326.24L418.95 332.42L449.80 332.98" fill="none" stroke="#569c40" stroke-width="3.0" stroke-linejoin="round"/>
<rect x="323.90" y="332.17" width="5.00" height="5.00" fill="#fff" stroke="#569c40" stroke-width="2.1"/>
<rect x="326.10" y="335.54" width="5.00" height="5.00" fill="#fff" stroke="#569c40" stroke-width="2.1"/>
<rect x="328.31" y="337.78" width="5.00" height="5.00" fill="#fff" stroke="#569c40" stroke-width="2.1"/>
<rect x="331.61" y="334.98" width="5.00" height="5.00" fill="#fff" stroke="#569c40" stroke-width="2.1"/>
<rect x="339.32" y="329.36" width="5.00" height="5.00" fill="#fff" stroke="#569c40" stroke-width="2.1"/>
<rect x="354.75" y="325.43" width="5.00" height="5.00" fill="#fff" stroke="#569c40" stroke-width="2.1"/>
<rect x="370.17" y="322.06" width="5.00" height="5.00" fill="#fff" stroke="#569c40" stroke-width="2.1"/>
<rect x="385.60" y="326.55" width="5.00" height="5.00" fill="#fff" stroke="#569c40" stroke-width="2.1"/>
<rect x="401.02" y="323.74" width="5.00" height="5.00" fill="#fff" stroke="#569c40" stroke-width="2.1"/>
<rect x="416.45" y="329.92" width="5.00" height="5.00" fill="#fff" stroke="#569c40" stroke-width="2.1"/>
<rect x="447.30" y="330.48" width="5.00" height="5.00" fill="#fff" stroke="#569c40" stroke-width="2.1"/>
<path d="M326.40 340.28V308.83M325.00 340.28h2.8M325.00 308.83h2.8M328.60 341.97V311.64M327.20 341.97h2.8M327.20 311.64h2.8M330.81 345.90V314.45M329.41 345.90h2.8M329.41 314.45h2.8M334.11 345.90V317.82M332.71 345.90h2.8M332.71 317.82h2.8M341.82 346.46V321.75M340.43 346.46h2.8M340.43 321.75h2.8M357.25 335.23V303.77M355.85 335.23h2.8M355.85 303.77h2.8M372.67 337.48V309.39M371.27 337.48h2.8M371.27 309.39h2.8M388.10 340.28V311.08M386.70 340.28h2.8M386.70 311.08h2.8M403.52 340.28V308.83M402.12 340.28h2.8M402.12 308.83h2.8M418.95 343.09V315.01M417.55 343.09h2.8M417.55 315.01h2.8M449.80 344.22V308.27M448.40 344.22h2.8M448.40 308.27h2.8M480.65 345.90V315.57M479.25 345.90h2.8M479.25 315.57h2.8" fill="none" stroke="#222074" stroke-width="1.4"/>
<path d="M326.40 324.56L328.60 326.80L330.81 330.17L334.11 331.86L341.82 334.11L357.25 319.50L372.67 323.43L388.10 325.68L403.52 324.56L418.95 329.05L449.80 326.24L480.65 330.74" fill="none" stroke="#222074" stroke-width="3.0" stroke-linejoin="round"/>
<path d="M326.40 320.86L329.60 326.41L323.20 326.41Z" fill="#fff" stroke="#222074" stroke-width="2.1"/>
<path d="M328.60 323.10L331.81 328.65L325.40 328.65Z" fill="#fff" stroke="#222074" stroke-width="2.1"/>
<path d="M330.81 326.47L334.01 332.02L327.60 332.02Z" fill="#fff" stroke="#222074" stroke-width="2.1"/>
<path d="M334.11 328.16L337.32 333.71L330.91 333.71Z" fill="#fff" stroke="#222074" stroke-width="2.1"/>
<path d="M341.82 330.41L345.03 335.96L338.62 335.96Z" fill="#fff" stroke="#222074" stroke-width="2.1"/>
<path d="M357.25 315.80L360.45 321.35L354.05 321.35Z" fill="#fff" stroke="#222074" stroke-width="2.1"/>
<path d="M372.67 319.73L375.88 325.28L369.47 325.28Z" fill="#fff" stroke="#222074" stroke-width="2.1"/>
<path d="M388.10 321.98L391.30 327.53L384.90 327.53Z" fill="#fff" stroke="#222074" stroke-width="2.1"/>
<path d="M403.52 320.86L406.73 326.41L400.32 326.41Z" fill="#fff" stroke="#222074" stroke-width="2.1"/>
<path d="M418.95 325.35L422.15 330.90L415.75 330.90Z" fill="#fff" stroke="#222074" stroke-width="2.1"/>
<path d="M449.80 322.54L453.00 328.09L446.60 328.09Z" fill="#fff" stroke="#222074" stroke-width="2.1"/>
<path d="M480.65 327.04L483.85 332.59L477.45 332.59Z" fill="#fff" stroke="#222074" stroke-width="2.1"/>
<path d="M326.40 336.35V295.91M325.00 336.35h2.8M325.00 295.91h2.8M328.60 336.91V296.47M327.20 336.91h2.8M327.20 296.47h2.8M330.81 341.97V293.66M329.41 341.97h2.8M329.41 293.66h2.8M334.11 347.02V294.23M332.71 347.02h2.8M332.71 294.23h2.8M341.82 339.72V289.17M340.43 339.72h2.8M340.43 289.17h2.8M357.25 329.33V285.52M355.85 329.33h2.8M355.85 285.52h2.8M372.67 328.77V283.84M371.27 328.77h2.8M371.27 283.84h2.8M388.10 337.48V286.93M386.70 337.48h2.8M386.70 286.93h2.8M403.52 335.79V290.86M402.12 335.79h2.8M402.12 290.86h2.8M418.95 338.60V283.56M417.55 338.60h2.8M417.55 283.56h2.8M449.80 339.16V289.73M448.40 339.16h2.8M448.40 289.73h2.8M480.65 342.53V291.98M479.25 342.53h2.8M479.25 291.98h2.8M511.50 329.61V289.17M510.10 329.61h2.8M510.10 289.17h2.8" fill="none" stroke="#ba102c" stroke-width="1.4"/>
<path d="M326.40 316.13L328.60 316.69L330.81 317.82L334.11 320.62L341.82 314.45L357.25 307.43L372.67 306.30L388.10 312.20L403.52 313.32L418.95 311.08L449.80 314.45L480.65 317.25L511.50 309.39" fill="none" stroke="#ba102c" stroke-width="3.0" stroke-linejoin="round"/>
<circle cx="326.40" cy="316.13" r="2.55" fill="#fff" stroke="#ba102c" stroke-width="2.1"/>
<circle cx="328.60" cy="316.69" r="2.55" fill="#fff" stroke="#ba102c" stroke-width="2.1"/>
<circle cx="330.81" cy="317.82" r="2.55" fill="#fff" stroke="#ba102c" stroke-width="2.1"/>
<circle cx="334.11" cy="320.62" r="2.55" fill="#fff" stroke="#ba102c" stroke-width="2.1"/>
<circle cx="341.82" cy="314.45" r="2.55" fill="#fff" stroke="#ba102c" stroke-width="2.1"/>
<circle cx="357.25" cy="307.43" r="2.55" fill="#fff" stroke="#ba102c" stroke-width="2.1"/>
<circle cx="372.67" cy="306.30" r="2.55" fill="#fff" stroke="#ba102c" stroke-width="2.1"/>
<circle cx="388.10" cy="312.20" r="2.55" fill="#fff" stroke="#ba102c" stroke-width="2.1"/>
<circle cx="403.52" cy="313.32" r="2.55" fill="#fff" stroke="#ba102c" stroke-width="2.1"/>
<circle cx="418.95" cy="311.08" r="2.55" fill="#fff" stroke="#ba102c" stroke-width="2.1"/>
<circle cx="449.80" cy="314.45" r="2.55" fill="#fff" stroke="#ba102c" stroke-width="2.1"/>
<circle cx="480.65" cy="317.25" r="2.55" fill="#fff" stroke="#ba102c" stroke-width="2.1"/>
<circle cx="511.50" cy="309.39" r="2.55" fill="#fff" stroke="#ba102c" stroke-width="2.1"/>
<path d="M326.40 352.64V325.68M325.00 352.64h2.8M325.00 325.68h2.8M328.60 353.20V326.24M327.20 353.20h2.8M327.20 326.24h2.8M330.81 354.32V324.00M329.41 354.32h2.8M329.41 324.00h2.8M334.11 349.83V326.24M332.71 349.83h2.8M332.71 326.24h2.8M341.82 347.02V317.82M340.43 347.02h2.8M340.43 317.82h2.8M357.25 346.46V319.50M355.85 346.46h2.8M355.85 319.50h2.8M372.67 343.09V308.27M371.27 343.09h2.8M371.27 308.27h2.8M388.10 340.28V311.08M386.70 340.28h2.8M386.70 311.08h2.8M403.52 342.53V318.94M402.12 342.53h2.8M402.12 318.94h2.8M418.95 334.67V304.34M417.55 334.67h2.8M417.55 304.34h2.8M449.80 343.09V311.64M448.40 343.09h2.8M448.40 311.64h2.8M480.65 344.78V317.82M479.25 344.78h2.8M479.25 317.82h2.8M511.50 338.04V314.45M510.10 338.04h2.8M510.10 314.45h2.8" fill="none" stroke="#000000" stroke-width="1.4"/>
<path d="M326.40 339.16L328.60 339.72L330.81 339.16L334.11 338.04L341.82 332.42L357.25 332.98L372.67 325.68L388.10 325.68L403.52 330.74L418.95 319.50L449.80 327.37L480.65 331.30L511.50 326.24" fill="none" stroke="#000000" stroke-width="3.1" stroke-linejoin="round"/>
<circle cx="326.40" cy="339.16" r="3.40" fill="#000000"/>
<circle cx="328.60" cy="339.72" r="3.40" fill="#000000"/>
<circle cx="330.81" cy="339.16" r="3.40" fill="#000000"/>
<circle cx="334.11" cy="338.04" r="3.40" fill="#000000"/>
<circle cx="341.82" cy="332.42" r="3.40" fill="#000000"/>
<circle cx="357.25" cy="332.98" r="3.40" fill="#000000"/>
<circle cx="372.67" cy="325.68" r="3.40" fill="#000000"/>
<circle cx="388.10" cy="325.68" r="3.40" fill="#000000"/>
<circle cx="403.52" cy="330.74" r="3.40" fill="#000000"/>
<circle cx="418.95" cy="319.50" r="3.40" fill="#000000"/>
<circle cx="449.80" cy="327.37" r="3.40" fill="#000000"/>
<circle cx="480.65" cy="331.30" r="3.40" fill="#000000"/>
<circle cx="511.50" cy="326.24" r="3.40" fill="#000000"/>
</g>
<rect x="319.0" y="272.0" width="200.30" height="181.70" fill="none" stroke="#000" stroke-width="1.4"/>
<path d="M326.40 453.7v6.8M357.25 453.7v6.8M388.10 453.7v6.8M418.95 453.7v6.8M449.80 453.7v6.8M480.65 453.7v6.8M511.50 453.7v6.8M319.0 447.00h-6.8M319.0 418.92h-6.8M319.0 390.83h-6.8M319.0 362.75h-6.8M319.0 334.67h-6.8M319.0 306.58h-6.8M319.0 278.50h-6.8" fill="none" stroke="#000" stroke-width="1.15" stroke-linecap="round"/>
<text x="326.40" y="475.50" text-anchor="middle" transform="rotate(0.03 326.40 475.50)" class="t">0</text>
<text x="357.25" y="475.50" text-anchor="middle" transform="rotate(0.03 357.25 475.50)" class="t">28</text>
<text x="388.10" y="475.50" text-anchor="middle" transform="rotate(0.03 388.10 475.50)" class="t">56</text>
<text x="418.95" y="475.50" text-anchor="middle" transform="rotate(0.03 418.95 475.50)" class="t">84</text>
<text x="449.80" y="475.50" text-anchor="middle" transform="rotate(0.03 449.80 475.50)" class="t">112</text>
<text x="480.65" y="475.50" text-anchor="middle" transform="rotate(0.03 480.65 475.50)" class="t">140</text>
<text x="511.50" y="475.50" text-anchor="middle" transform="rotate(0.03 511.50 475.50)" class="t">168</text>
<text x="306.60" y="450.70" text-anchor="end" transform="rotate(0.03 306.60 450.70)" class="t">0</text>
<text x="306.60" y="422.62" text-anchor="end" transform="rotate(0.03 306.60 422.62)" class="t">50</text>
<text x="306.60" y="394.53" text-anchor="end" transform="rotate(0.03 306.60 394.53)" class="t">100</text>
<text x="306.60" y="366.45" text-anchor="end" transform="rotate(0.03 306.60 366.45)" class="t">150</text>
<text x="306.60" y="338.37" text-anchor="end" transform="rotate(0.03 306.60 338.37)" class="t">200</text>
<text x="306.60" y="310.28" text-anchor="end" transform="rotate(0.03 306.60 310.28)" class="t">250</text>
<text x="306.60" y="282.20" text-anchor="end" transform="rotate(0.03 306.60 282.20)" class="t">300</text>
<text x="419.50" y="499.00" text-anchor="middle" transform="rotate(0.03 419.50 499.00)" class="t">Time after ACE910 administration (day)</text>
<text transform="translate(279.5 363) rotate(-89.97)" text-anchor="middle" class="t">Platelets (10<tspan font-size="7.5" dy="-3">9</tspan><tspan dy="3">/L)</tspan></text>
<path d="M324.5 382.8H344.8" stroke="#000000" stroke-width="2.6" fill="none"/>
<circle cx="334.65" cy="382.80" r="3.20" fill="#000000"/>
<text x="352.80" y="386.80" transform="rotate(0.03 352.80 386.80)" class="t">Placebo</text>
<path d="M324.5 394.8H344.8" stroke="#68b4b2" stroke-width="2.6" fill="none"/>
<path d="M331.36 394.80L334.65 391.51L337.94 394.80L334.65 398.09Z" fill="#fff" stroke="#68b4b2" stroke-width="1.7"/>
<text x="352.80" y="398.80" transform="rotate(0.03 352.80 398.80)" class="t">0.001 mg/kg</text>
<path d="M324.5 407.4H344.8" stroke="#8c1072" stroke-width="2.6" fill="none"/>
<path d="M334.65 410.88L337.66 405.66L331.64 405.66Z" fill="#fff" stroke="#8c1072" stroke-width="1.7"/>
<text x="352.80" y="411.40" transform="rotate(0.03 352.80 411.40)" class="t">0.01 mg/kg</text>
<path d="M324.5 419.8H344.8" stroke="#569c40" stroke-width="2.6" fill="none"/>
<rect x="332.30" y="417.45" width="4.70" height="4.70" fill="#fff" stroke="#569c40" stroke-width="1.7"/>
<text x="352.80" y="423.80" transform="rotate(0.03 352.80 423.80)" class="t">0.1 mg/kg</text>
<path d="M324.5 431.8H344.8" stroke="#222074" stroke-width="2.6" fill="none"/>
<path d="M334.65 428.32L337.66 433.54L331.64 433.54Z" fill="#fff" stroke="#222074" stroke-width="1.7"/>
<text x="352.80" y="435.80" transform="rotate(0.03 352.80 435.80)" class="t">0.3 mg/kg</text>
<path d="M324.5 444.0H344.8" stroke="#ba102c" stroke-width="2.6" fill="none"/>
<circle cx="334.65" cy="444.00" r="2.40" fill="#fff" stroke="#ba102c" stroke-width="1.7"/>
<text x="352.80" y="448.00" transform="rotate(0.03 352.80 448.00)" class="t">1 mg/kg</text>
<text x="269.5" y="268.8" transform="rotate(0.03 269.5 268.8)" font-size="17" font-weight="bold" stroke="#000" stroke-width="1" stroke-linejoin="round">D</text>
</g>
</svg>
</body>
</html>
